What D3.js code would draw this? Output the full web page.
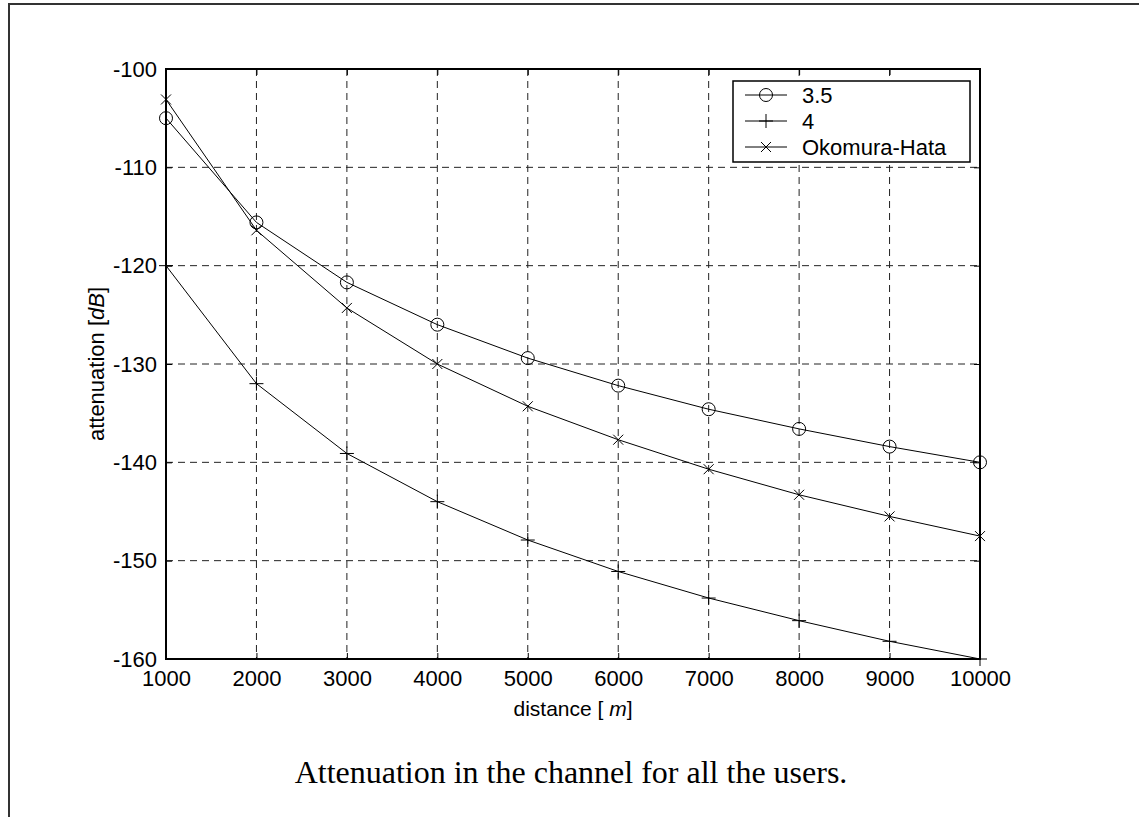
<!DOCTYPE html>
<html>
<head>
<meta charset="utf-8">
<script src="https://cdn.jsdelivr.net/npm/d3@7"></script>
<style>
  body { margin: 0; background: #fff; }
  svg { display: block; }
  .tick text { font-family: Arial, "Liberation Sans", sans-serif; font-size: 22px; fill: #000; }
</style>
</head>
<body>
<div id="chart"></div>
<script>
// distances in metres
var distances = [1000, 2000, 3000, 4000, 5000, 6000, 7000, 8000, 9000, 10000];

// attenuation in dB
var exp35 = [-105.0, -115.6, -121.7, -126.0, -129.4, -132.2, -134.6, -136.6, -138.4, -140.0];
var exp4 = [-120.0, -132.0, -139.1, -144.0, -147.9, -151.1, -153.8, -156.1, -158.2, -160.0];
var hata = [-103.1, -116.4, -124.3, -130.0, -134.3, -137.7, -140.7, -143.3, -145.5, -147.5];

var seriesNames = ["3.5", "4", "Okomura-Hata"];
var seriesMarkers = ["circle", "plus", "cross"];
var xTicks = [1000, 2000, 3000, 4000, 5000, 6000, 7000, 8000, 9000, 10000];
var yTicks = [-100, -110, -120, -130, -140, -150, -160];

var W = 1139, H = 817;
var margin = { left: 166, top: 69, right: 1139 - 980, bottom: 817 - 659 };
var width = W - margin.left - margin.right;
var height = H - margin.top - margin.bottom;

var svg = d3.select("#chart").append("svg")
  .attr("width", W)
  .attr("height", H);

// figure frame (only top and left edges are visible)
svg.append("path")
  .attr("d", "M9," + H + " L9,4 L" + W + ",4")
  .attr("fill", "none")
  .attr("stroke", "#333")
  .attr("stroke-width", 2);

var g = svg.append("g")
  .attr("transform", "translate(" + margin.left + "," + margin.top + ")");

var x = d3.scaleLinear().domain([1000, 10000]).range([0, width]);
var y = d3.scaleLinear().domain([-160, -100]).range([height, 0]);

// dashed grid
g.append("g").selectAll("line")
  .data(xTicks.slice(1, -1))
  .enter().append("line")
    .attr("x1", d => x(d)).attr("x2", d => x(d))
    .attr("y1", 0).attr("y2", height)
    .attr("stroke", "#222")
    .attr("stroke-width", 1)
    .attr("stroke-dasharray", "7,5");

g.append("g").selectAll("line")
  .data(yTicks.slice(1, -1))
  .enter().append("line")
    .attr("x1", 0).attr("x2", width)
    .attr("y1", d => y(d)).attr("y2", d => y(d))
    .attr("stroke", "#222")
    .attr("stroke-width", 1)
    .attr("stroke-dasharray", "7,5");

// axes, ticks pointing inwards like matlab; plain hyphen for minus
var plain = d => String(d);
var xAxis = d3.axisBottom(x).tickValues(xTicks).tickSize(-6).tickPadding(11).tickFormat(plain);
var yAxis = d3.axisLeft(y).tickValues(yTicks).tickSize(-6).tickPadding(9).tickFormat(plain);

g.append("g")
  .attr("transform", "translate(0," + height + ")")
  .call(xAxis)
  .call(a => a.select(".domain").remove());

g.append("g")
  .call(yAxis)
  .call(a => a.select(".domain").remove());

g.append("g")
  .call(d3.axisTop(x).tickValues(xTicks).tickSize(-6).tickFormat(""))
  .call(a => a.select(".domain").remove());

g.append("g")
  .attr("transform", "translate(" + width + ",0)")
  .call(d3.axisRight(y).tickValues(yTicks).tickSize(-6).tickFormat(""))
  .call(a => a.select(".domain").remove());

g.selectAll(".tick line").attr("stroke", "#000");
g.selectAll(".tick text").attr("font-family", null).attr("font-size", null);

// plot box
g.append("rect")
  .attr("width", width)
  .attr("height", height)
  .attr("fill", "none")
  .attr("stroke", "#000")
  .attr("stroke-width", 2);

// series
var allSeries = [exp35, exp4, hata];

var line = d3.line()
  .x((d, i) => x(distances[i]))
  .y(d => y(d));

function drawMarker(sel, type, cx, cy) {
  if (type == "circle") {
    sel.append("circle")
      .attr("cx", cx).attr("cy", cy).attr("r", 6.5)
      .attr("fill", "none").attr("stroke", "#000").attr("stroke-width", 1);
  } else if (type == "plus") {
    sel.append("path")
      .attr("d", "M" + (cx - 7) + "," + cy + "h14M" + cx + "," + (cy - 7) + "v14")
      .attr("stroke", "#000").attr("stroke-width", 1);
  } else {
    sel.append("path")
      .attr("d", "M" + (cx - 5) + "," + (cy - 5) + "l10,10M" + (cx - 5) + "," + (cy + 5) + "l10,-10")
      .attr("stroke", "#000").attr("stroke-width", 1);
  }
}

allSeries.forEach(function(values, s) {
  g.append("path")
    .datum(values)
    .attr("d", line)
    .attr("fill", "none")
    .attr("stroke", "#000")
    .attr("stroke-width", 1);

  var mg = g.append("g");
  values.forEach(function(v, i) {
    drawMarker(mg, seriesMarkers[s], x(distances[i]), y(v));
  });
});

// legend
var legend = svg.append("g").attr("transform", "translate(733,81)");
legend.append("rect")
  .attr("width", 237)
  .attr("height", 81)
  .attr("fill", "#fff")
  .attr("stroke", "#000")
  .attr("stroke-width", 1.5);

seriesNames.forEach(function(name, i) {
  var ly = 14 + i * 26;
  legend.append("line")
    .attr("x1", 12).attr("x2", 54)
    .attr("y1", ly).attr("y2", ly)
    .attr("stroke", "#000");
  drawMarker(legend, seriesMarkers[i], 33, ly);
  legend.append("text")
    .attr("x", 69)
    .attr("y", ly + 8)
    .attr("font-family", "Arial, 'Liberation Sans', sans-serif")
    .attr("font-size", 22)
    .text(name);
});

// axis labels
var xl = svg.append("text")
  .attr("x", margin.left + width / 2)
  .attr("y", 716)
  .attr("text-anchor", "middle")
  .attr("font-family", "Arial, 'Liberation Sans', sans-serif")
  .attr("font-size", 21);
xl.append("tspan").text("distance [ ");
xl.append("tspan").attr("font-style", "italic").text("m");
xl.append("tspan").text("]");

var yl = svg.append("text")
  .attr("transform", "translate(104," + (margin.top + height / 2) + ") rotate(-90)")
  .attr("text-anchor", "middle")
  .attr("font-family", "Arial, 'Liberation Sans', sans-serif")
  .attr("font-size", 22);
yl.append("tspan").text("attenuation [");
yl.append("tspan").attr("font-style", "italic").text("dB");
yl.append("tspan").text("]");

// caption
svg.append("text")
  .attr("x", 571)
  .attr("y", 783)
  .attr("text-anchor", "middle")
  .attr("font-family", "'Times New Roman', 'Liberation Serif', serif")
  .attr("font-size", 32)
  .text("Attenuation in the channel for all the users.");
</script>
</body>
</html>
